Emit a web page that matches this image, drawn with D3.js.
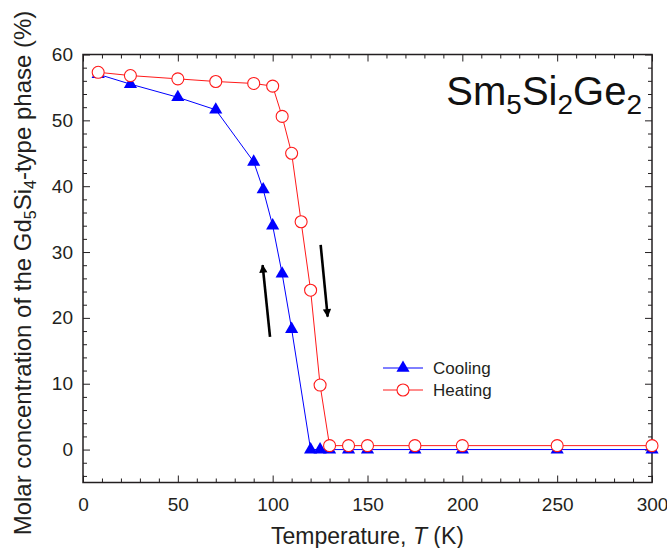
<!DOCTYPE html>
<html>
<head>
<meta charset="utf-8">
<script src="https://cdn.jsdelivr.net/npm/d3@7"></script>
<style>
  html, body { margin: 0; padding: 0; background: #fff; }
  svg { display: block; font-family: "Liberation Sans", Arial, Helvetica, sans-serif; }
</style>
</head>
<body>
<svg id="chart" width="667" height="548"></svg>
<script>
// ---- data ----
const coolingT = [8, 25, 50, 70, 90, 95, 100, 105, 110, 120, 125, 130, 140, 150, 175, 200, 250, 300];
const coolingV = [57.0, 55.5, 53.5, 51.6, 43.7, 39.5, 34.0, 26.7, 18.3, 0, 0, 0, 0, 0, 0, 0, 0, 0];
const heatingT = [8, 25, 50, 70, 90, 100, 105, 110, 115, 120, 125, 130, 140, 150, 175, 200, 250, 300];
const heatingV = [57.3, 56.8, 56.3, 55.9, 55.6, 55.2, 50.6, 45.0, 34.6, 24.2, 9.8, 0.6, 0.6, 0.6, 0.6, 0.6, 0.6, 0.6];
const xMajorTicks = [0, 50, 100, 150, 200, 250, 300];
const yMajorTicks = [0, 10, 20, 30, 40, 50, 60];
// arrows: [T tail, value tail, T head, value head]
const arrowUp = [98.6, 17.1, 94.7, 28.0];
const arrowDown = [125.3, 31.1, 129.0, 20.2];
const legendLabels = ["Cooling", "Heating"];

// ---- layout ----
const svg = d3.select("#chart");
const L = 83, R = 652, T = 54.5, B = 482.5;
const x = d3.scaleLinear().domain([0, 300]).range([L, R]);
const y = d3.scaleLinear().domain([-5, 60]).range([B, T]);
const blue = "#0000ff", red = "#ff1a1a", textCol = "#231f20";

const xMinor = d3.range(0, 301, 10).filter(v => v % 50 !== 0);
const yMinor = d3.range(-4, 61, 2).filter(v => v % 10 !== 0);

function styleAxis(g) {
  g.select(".domain").remove();
  g.selectAll(".tick line").attr("stroke", "#231f20").attr("stroke-width", 1);
  g.selectAll("text").attr("font-size", 19).attr("fill", textCol)
    .attr("font-family", '"Liberation Sans", Arial, Helvetica, sans-serif');
}

// bottom
svg.append("g").attr("transform", `translate(0,${B})`)
  .call(d3.axisBottom(x).tickValues(xMajorTicks).tickSize(-7).tickPadding(15).tickFormat(d3.format("d")))
  .call(styleAxis);
svg.append("g").attr("transform", `translate(0,${B})`)
  .call(d3.axisBottom(x).tickValues(xMinor).tickSize(-4).tickFormat(""))
  .call(styleAxis);
// top
svg.append("g").attr("transform", `translate(0,${T})`)
  .call(d3.axisTop(x).tickValues(xMajorTicks).tickSize(-7).tickFormat(""))
  .call(styleAxis);
svg.append("g").attr("transform", `translate(0,${T})`)
  .call(d3.axisTop(x).tickValues(xMinor).tickSize(-4).tickFormat(""))
  .call(styleAxis);
// left
svg.append("g").attr("transform", `translate(${L},0)`)
  .call(d3.axisLeft(y).tickValues(yMajorTicks).tickSize(-7).tickPadding(10).tickFormat(d3.format("d")))
  .call(styleAxis);
svg.append("g").attr("transform", `translate(${L},0)`)
  .call(d3.axisLeft(y).tickValues(yMinor).tickSize(-4).tickFormat(""))
  .call(styleAxis);
// right
svg.append("g").attr("transform", `translate(${R},0)`)
  .call(d3.axisRight(y).tickValues(yMajorTicks).tickSize(-7).tickFormat(""))
  .call(styleAxis);
svg.append("g").attr("transform", `translate(${R},0)`)
  .call(d3.axisRight(y).tickValues(yMinor).tickSize(-4).tickFormat(""))
  .call(styleAxis);

// frame
svg.append("rect").attr("x", L).attr("y", T).attr("width", R - L).attr("height", B - T)
  .attr("fill", "none").attr("stroke", "#231f20").attr("stroke-width", 1.5);

// axis titles
const xt = svg.append("text").attr("x", (L + R) / 2).attr("y", 544)
  .attr("text-anchor", "middle").attr("font-size", 23).attr("fill", textCol);
xt.append("tspan").text("Temperature, ");
xt.append("tspan").attr("font-style", "italic").text("T");
xt.append("tspan").text(" (K)");

const yt = svg.append("text").attr("transform", "translate(31,273) rotate(-90)")
  .attr("text-anchor", "middle").attr("font-size", 24).attr("fill", textCol);
yt.append("tspan").text("Molar concentration of the Gd");
yt.append("tspan").attr("font-size", 16).attr("dy", 5).text("5");
yt.append("tspan").attr("dy", -5).text("Si");
yt.append("tspan").attr("font-size", 16).attr("dy", 5).text("4");
yt.append("tspan").attr("dy", -5).text("-type phase (%)");

// title
const tt = svg.append("text").attr("x", 642).attr("y", 105).attr("text-anchor", "end")
  .attr("font-size", 40).attr("fill", "#111");
[["Sm", false], ["5", true], ["Si", false], ["2", true], ["Ge", false], ["2", true]].forEach(([s, sub], i, arr) => {
  const prevSub = i > 0 && arr[i - 1][1];
  const t = tt.append("tspan").text(s);
  if (sub) t.attr("font-size", 28).attr("dy", 9);
  else if (prevSub) t.attr("dy", -9);
});

// lines
const line = d3.line().x(d => x(d[0])).y(d => y(d[1]));
const cool = coolingT.map((t, i) => [t, coolingV[i]]);
const heat = heatingT.map((t, i) => [t, heatingV[i]]);

svg.append("path").datum(cool).attr("d", line).attr("fill", "none").attr("stroke", blue).attr("stroke-width", 1);
const tri = d3.symbol().type(d3.symbolTriangle).size(75);
svg.append("g").selectAll("path").data(cool).join("path")
  .attr("d", tri).attr("transform", d => `translate(${x(d[0])},${y(d[1])})`)
  .attr("fill", blue);

svg.append("path").datum(heat).attr("d", line).attr("fill", "none").attr("stroke", red).attr("stroke-width", 1);
svg.append("g").selectAll("circle").data(heat).join("circle")
  .attr("cx", d => x(d[0])).attr("cy", d => y(d[1])).attr("r", 6)
  .attr("fill", "#fff").attr("stroke", red).attr("stroke-width", 1.1);

// arrows
const defs = svg.append("defs");
defs.append("marker").attr("id", "ah").attr("viewBox", "0 0 10 10").attr("refX", 9).attr("refY", 5)
  .attr("markerWidth", 3.6).attr("markerHeight", 3.2).attr("markerUnits", "strokeWidth").attr("orient", "auto")
  .append("path").attr("d", "M0,0 L10,5 L0,10 Z").attr("fill", "#000");
[arrowUp, arrowDown].forEach(a => {
  svg.append("line").attr("x1", x(a[0])).attr("y1", y(a[1])).attr("x2", x(a[2])).attr("y2", y(a[3]))
    .attr("stroke", "#000").attr("stroke-width", 2.6).attr("marker-end", "url(#ah)");
});

// legend
const lg = svg.append("g");
const ly = [368, 390];
[0, 1].forEach(i => {
  const col = i === 0 ? blue : red;
  lg.append("line").attr("x1", 383).attr("x2", 423).attr("y1", ly[i]).attr("y2", ly[i])
    .attr("stroke", col).attr("stroke-width", 1);
  if (i === 0) lg.append("path").attr("d", tri).attr("transform", `translate(403,${ly[i]})`).attr("fill", blue);
  else lg.append("circle").attr("cx", 403).attr("cy", ly[i]).attr("r", 6).attr("fill", "#fff").attr("stroke", red).attr("stroke-width", 1.1);
  lg.append("text").attr("x", 433).attr("y", ly[i]).attr("dy", "0.36em").attr("font-size", 17)
    .attr("fill", textCol).text(legendLabels[i]);
});
</script>
</body>
</html>
